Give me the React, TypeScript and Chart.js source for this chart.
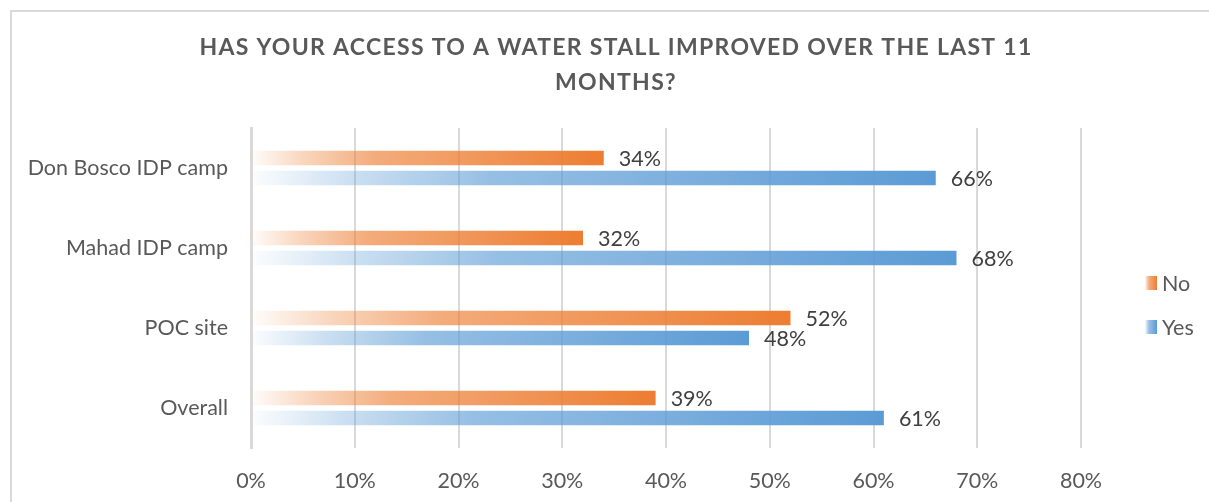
import React, { useEffect, useRef } from "react";
import { Chart, registerables } from "chart.js";

Chart.register(...registerables);

const categories = ["Don Bosco IDP camp", "Mahad IDP camp", "POC site", "Overall"];
const noValues = [34, 32, 52, 39];
const yesValues = [66, 68, 48, 61];
const seriesNames = ["No", "Yes"];
const xTickValues = [0, 10, 20, 30, 40, 50, 60, 70, 80];
const titleLines = ["HAS YOUR ACCESS TO A WATER STALL IMPROVED OVER THE LAST 11", "MONTHS?"];

const ORANGE = [237, 125, 49];
const BLUE = [91, 155, 213];
const FONT = "Lato, 'Open Sans', sans-serif";
const TEXT_SIZE = 21.5;

const rgba = (c: number[], a: number) => `rgba(${c[0]},${c[1]},${c[2]},${a})`;

function addStops(g: CanvasGradient, c: number[]) {
  g.addColorStop(0, rgba(c, 0.02));
  g.addColorStop(0.15, rgba(c, 0.32));
  g.addColorStop(0.35, rgba(c, 0.64));
  g.addColorStop(1, rgba(c, 1));
  return g;
}

function barGradient(c: number[]) {
  return (ctx: any) => {
    const chart = ctx.chart;
    const xs = chart.scales && chart.scales.x;
    if (!chart.chartArea || !xs || ctx.type !== "data") return rgba(c, 1);
    const v = ctx.raw as number;
    const x0 = xs.getPixelForValue(0);
    const x1 = xs.getPixelForValue(v);
    if (Math.abs(x1 - x0) < 1) return rgba(c, 1);
    return addStops(chart.ctx.createLinearGradient(x0, 0, x1, 0), c);
  };
}

const framePlugin = {
  id: "frame",
  beforeDraw(chart: any) {
    const ctx = chart.ctx;
    ctx.save();
    ctx.fillStyle = "#ffffff";
    ctx.fillRect(0, 0, chart.width, chart.height);
    ctx.strokeStyle = "#d9d9d9";
    ctx.lineWidth = 2;
    ctx.strokeRect(11, 11, chart.width + 20, chart.height + 20);
    ctx.restore();
  },
};

const titlePlugin = {
  id: "customTitle",
  afterDraw(chart: any) {
    const ctx = chart.ctx;
    ctx.save();
    ctx.font = `bold 23px ${FONT}`;
    ctx.fillStyle = "#595959";
    ctx.textAlign = "center";
    ctx.textBaseline = "middle";
    (ctx as any).letterSpacing = "1.3px";
    const cx = 616;
    ctx.fillText(titleLines[0], cx, 48);
    ctx.fillText(titleLines[1], cx, 83);
    ctx.restore();
  },
};

const dataLabelPlugin = {
  id: "dataLabels",
  afterDatasetsDraw(chart: any) {
    const ctx = chart.ctx;
    ctx.save();
    ctx.font = `${TEXT_SIZE}px ${FONT}`;
    ctx.fillStyle = "#404040";
    ctx.textAlign = "left";
    ctx.textBaseline = "middle";
    chart.data.datasets.forEach((ds: any, di: number) => {
      const meta = chart.getDatasetMeta(di);
      meta.data.forEach((el: any, i: number) => {
        ctx.fillText(`${ds.data[i]}%`, el.x + 15, el.y + 1);
      });
    });
    ctx.restore();
  },
};

const legendPlugin = {
  id: "customLegend",
  afterDraw(chart: any) {
    const ctx = chart.ctx;
    ctx.save();
    const colors = [ORANGE, BLUE];
    const ys = [283, 327];
    ctx.font = `${TEXT_SIZE}px ${FONT}`;
    ctx.fillStyle = "#595959";
    ctx.textBaseline = "middle";
    seriesNames.forEach((name, i) => {
      const bx = 1145;
      const by = ys[i] - 7;
      const g = addStops(ctx.createLinearGradient(bx, 0, bx + 12, 0), colors[i]);
      ctx.fillStyle = g;
      ctx.fillRect(bx, by, 12, 14);
      ctx.fillStyle = "#595959";
      ctx.fillText(name, 1162, ys[i] + 1);
    });
    ctx.restore();
  },
};

export default function App() {
  const ref = useRef<HTMLCanvasElement | null>(null);

  useEffect(() => {
    if (!ref.current) return;
    const chart = new Chart(ref.current, {
      type: "bar",
      data: {
        labels: categories,
        datasets: [
          {
            label: seriesNames[0],
            data: noValues,
            backgroundColor: barGradient(ORANGE),
            borderWidth: 0,
            categoryPercentage: 0.5,
            barPercentage: 0.72,
          },
          {
            label: seriesNames[1],
            data: yesValues,
            backgroundColor: barGradient(BLUE),
            borderWidth: 0,
            categoryPercentage: 0.5,
            barPercentage: 0.72,
          },
        ],
      },
      options: {
        indexAxis: "y",
        animation: false,
        responsive: false,
        maintainAspectRatio: false,
        layout: { padding: { top: 128, right: 128, bottom: 0, left: 0 } },
        plugins: {
          legend: { display: false },
          title: { display: false },
          tooltip: { enabled: false },
        },
        scales: {
          x: {
            min: 0,
            max: 80,
            afterBuildTicks: (scale: any) => {
              scale.ticks = xTickValues.map((v) => ({ value: v }));
            },
            afterFit: (scale: any) => {
              scale.height = 54;
            },
            ticks: {
              callback: (v: any) => `${v}%`,
              font: { family: FONT, size: TEXT_SIZE },
              color: "#595959",
              padding: 20,
              maxRotation: 0,
            },
            grid: { color: "#d9d9d9", lineWidth: 2, drawTicks: false },
            border: { display: false },
          },
          y: {
            afterFit: (scale: any) => {
              scale.width = 251;
            },
            ticks: {
              font: { family: FONT, size: TEXT_SIZE },
              color: "#595959",
              padding: 23,
            },
            grid: { display: false, drawTicks: false },
            border: { display: true, color: "#d9d9d9", width: 3 },
          },
        },
      },
      plugins: [framePlugin, dataLabelPlugin, titlePlugin, legendPlugin],
    });
    return () => chart.destroy();
  }, []);

  return (
    <div style={{ position: "fixed", left: 0, top: 0, width: 1209, height: 502, background: "#fff" }}>
      <canvas ref={ref} width={1209} height={502} style={{ display: "block", width: 1209, height: 502 }} />
    </div>
  );
}
